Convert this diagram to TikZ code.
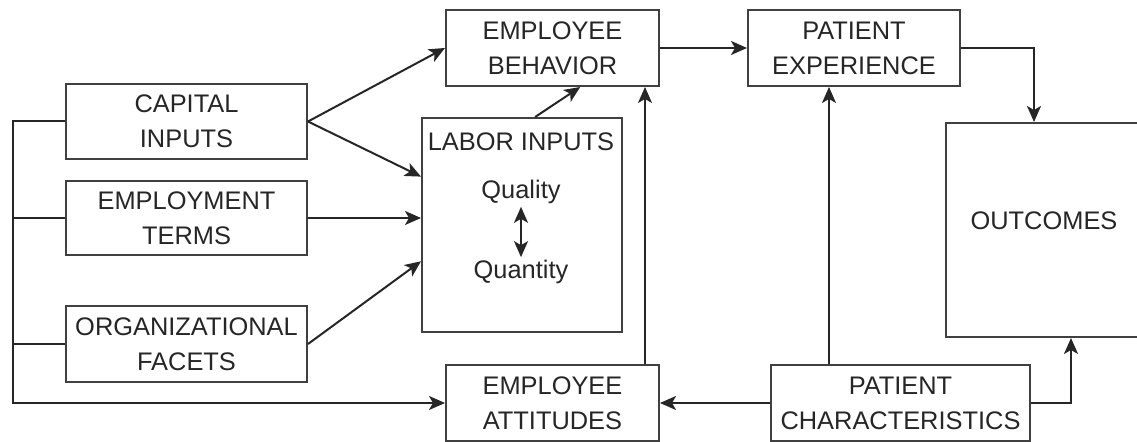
\documentclass[tikz,border=0pt]{standalone}
\usepackage{fontspec}
\setmainfont{Liberation Sans}
\usepackage{tikz}
\usetikzlibrary{arrows.meta,positioning,calc}

\begin{document}
\begin{tikzpicture}[x=0.5pt,y=-0.5pt,>={Stealth[length=8pt,width=7pt,inset=2pt]},
                    line width=1pt,black!85]
\tikzstyle{block}=[draw=black!75,line width=1pt,inner sep=0pt,align=center,text=black!85]
\tikzstyle{plain}=[inner sep=1pt,text=black!85]
\tikzset{font=\fontsize{12.7pt}{17.5pt}\selectfont}

  \useasboundingbox (0,0) rectangle (1137,442);

        % inputs on the left
        \node[block,minimum width=120.5pt,minimum height=37.5pt]      (cap)   at (186.5,121.5)   {CAPITAL\\INPUTS};
        \node[block,minimum width=120.5pt,minimum height=37pt]        (emp)   at (186.5,218)     {EMPLOYMENT\\TERMS};
        \node[block,minimum width=120.5pt,minimum height=38pt]        (org)   at (186.5,344)     {ORGANIZATIONAL\\FACETS};

        % labor inputs box with its two parts
        \node[block,minimum width=100pt,minimum height=107pt]         (lab)   at (522,225)       {};
        \node[plain]                                                  (labt)  at (521,142)       {LABOR INPUTS};
        \node[plain]                                                  (qual)  at (521,192)       {Quality};
        \node[plain]                                                  (quan)  at (521,272)       {Quantity};

        % employee side
        \node[block,minimum width=106.5pt,minimum height=38pt]        (beh)   at (552.5,48)      {EMPLOYEE\\BEHAVIOR};
        \node[block,minimum width=106.5pt,minimum height=38pt]        (att)   at (552.5,403)     {EMPLOYEE\\ATTITUDES};

        % patient side
        \node[block,minimum width=106pt,minimum height=38pt]          (pexp)  at (854,48)        {PATIENT\\EXPERIENCE};
        \node[block,minimum width=129.5pt,minimum height=38pt]        (pchar) at (900.5,403)     {PATIENT\\CHARACTERISTICS};
        \node[block,minimum width=98pt,minimum height=107pt]          (out)   at (1044,230)      {};
        \node[plain]                                                  (outt)  at (1044,221)      {OUTCOMES};

        \coordinate (bus)    at (13,0);
        \coordinate (uplink) at (645,0);
        \coordinate (pclink) at (829,0);
        \coordinate (outin)  at (1034,0);
        \coordinate (outlow) at (1071,0);

        \path[->]
        (cap.east)   edge node {}   (beh.west)
        (cap.east)   edge node {}   ($(lab.north west)!0.276!(lab.south west)$)
        (emp.east)   edge node {}   (emp.east -| lab.west)
        (org.east)   edge node {}   ($(lab.north west)!0.668!(lab.south west)$)
        ($(lab.north west)!0.565!(lab.north east)$)   edge node {}   ($(beh.south west)!0.629!(beh.south east)$)
        (beh.east)   edge node {}   (pexp.west)
        (pchar.west) edge node {}   (att.east)
        (qual)       edge[<->]      (quan)
        ; %end path

        % left bus feeding the attitudes box
        \draw[->] (cap.west) -- (cap.west -| bus) |- (att.west);
        \draw (emp.west) -- (emp.west -| bus);
        \draw (org.west) -- (org.west -| bus);

        \draw[->] (att.north -| uplink) -- (beh.south -| uplink);
        \draw[->] (pchar.north -| pclink) -- (pexp.south -| pclink);
        \draw[->] (pexp.east) -| (out.north -| outin);
        \draw[->] (pchar.east) -| (out.south -| outlow);

\end{tikzpicture}
\end{document}
